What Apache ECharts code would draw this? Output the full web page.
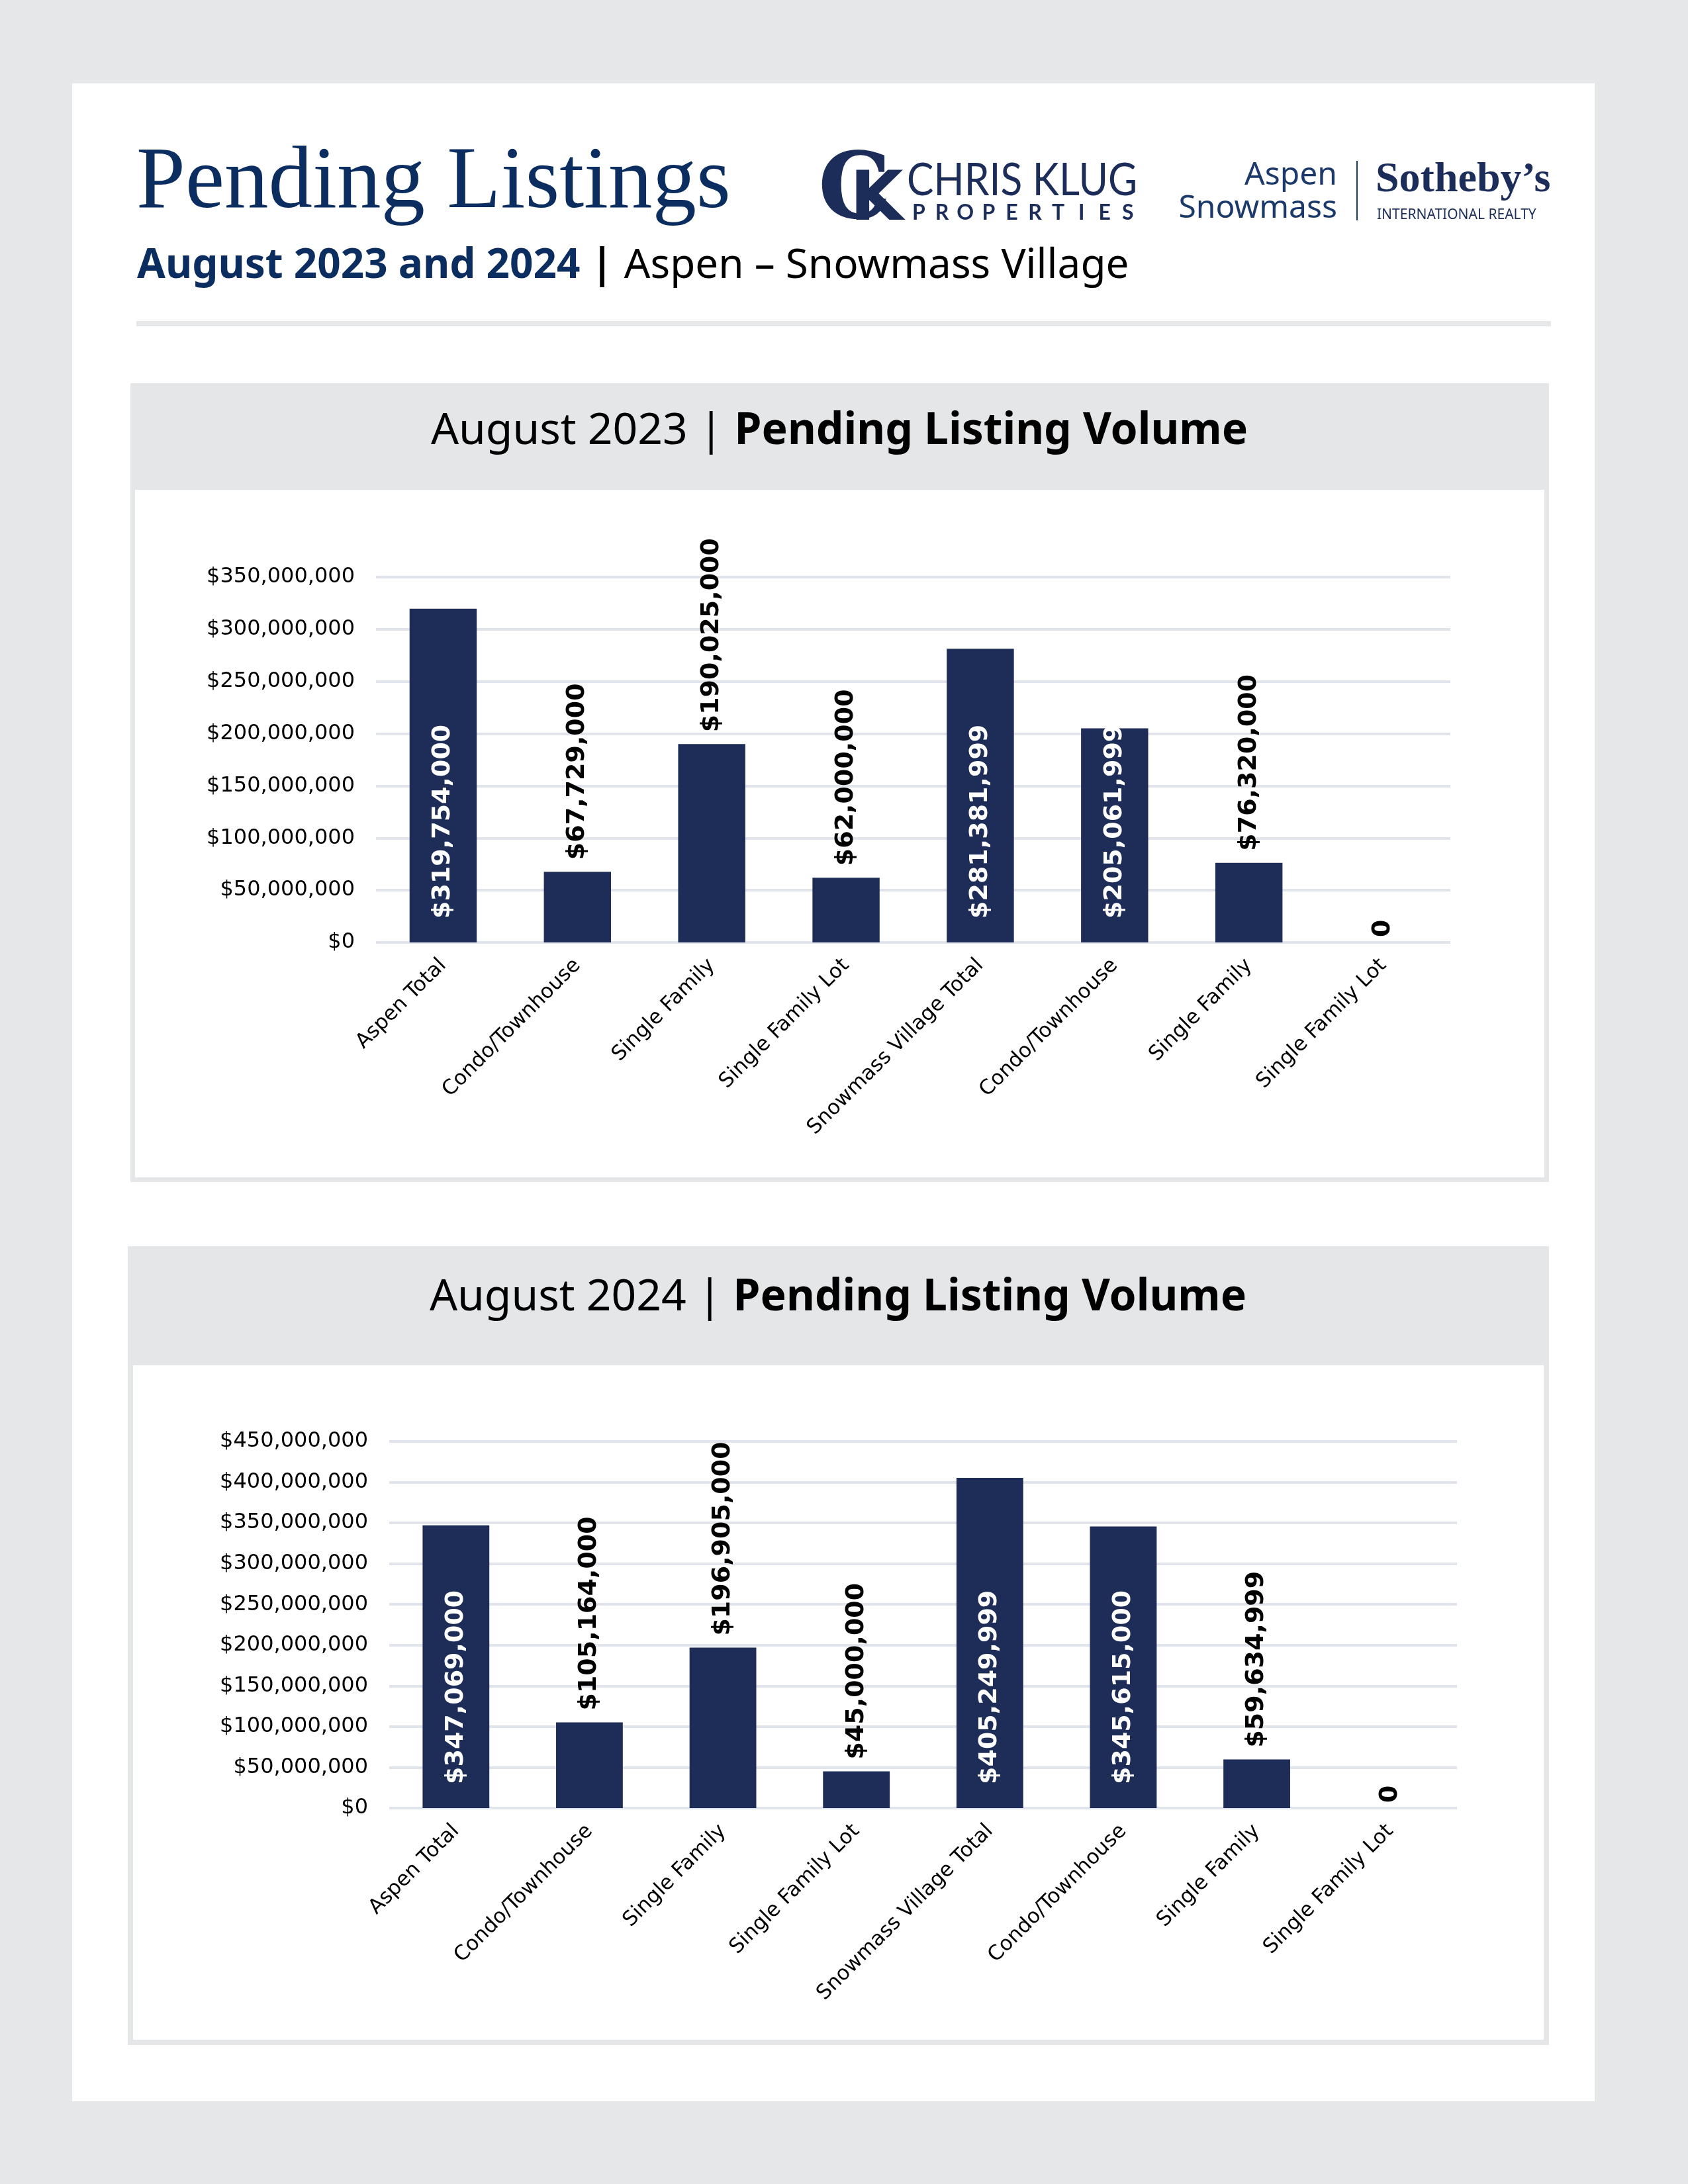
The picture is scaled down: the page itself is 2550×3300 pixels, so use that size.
<!DOCTYPE html>
<html>
<head>
<meta charset="utf-8">
<script src="https://cdn.jsdelivr.net/npm/echarts@6/dist/echarts.min.js"></script>
<style>
  html, body { margin: 0; padding: 0; background: #e6e7e9; }
  #main { width: 2550px; height: 3300px; }
</style>
</head>
<body>
<div id="main"></div>
<script>
// ---------------- DATA ----------------
const categories = ['Aspen Total', 'Condo/Townhouse', 'Single Family', 'Single Family Lot',
  'Snowmass Village Total', 'Condo/Townhouse', 'Single Family', 'Single Family Lot'];
const values2023 = [319754000, 67729000, 190025000, 62000000, 281381999, 205061999, 76320000, 0];
const values2024 = [347069000, 105164000, 196905000, 45000000, 405249999, 345615000, 59634999, 0];
const yMax2023 = 350000000;
const yMax2024 = 450000000;
const yStep = 50000000;
const title2023 = 'August 2023';
const title2024 = 'August 2024';
const panelSubject = 'Pending Listing Volume';

// ---------------- STYLE ----------------
const NAVY = '#0b2d5f';
const BAR = '#1e2d58';
const LOGO = '#1c2d5a';
const GRID = '#e1e4ea';
const PANEL_GRAY = '#e5e6e8';
const SANS = '"DejaVu Sans", sans-serif';
const INSIDE_MIN = 200000000;

function money(v) { return v === 0 ? '0' : '$' + v.toLocaleString('en-US'); }

function barData(values) {
  return values.map(v => {
    const inside = v >= INSIDE_MIN;
    return {
      value: v,
      label: {
        show: true,
        position: inside ? 'insideBottom' : 'top',
        distance: inside ? 36 : (v === 0 ? 8 : 18),
        rotate: 90,
        align: 'left',
        verticalAlign: 'middle',
        color: inside ? '#ffffff' : '#000000',
        fontFamily: SANS,
        fontWeight: 'bold',
        fontSize: 38,
        formatter: p => money(p.value)
      }
    };
  });
}

function xAxisCfg(gridIndex) {
  return {
    type: 'category', gridIndex, data: categories,
    axisLine: { show: false }, axisTick: { show: false },
    axisLabel: { interval: 0, rotate: 45, margin: 30, fontFamily: SANS, fontSize: 31, color: '#000' }
  };
}
function yAxisCfg(gridIndex, max) {
  return {
    type: 'value', gridIndex, min: 0, max, interval: yStep,
    axisLine: { show: false }, axisTick: { show: false },
    axisLabel: { margin: 32, fontFamily: SANS, fontSize: 32, color: '#000', formatter: v => '$' + v.toLocaleString('en-US') },
    splitLine: { show: true, lineStyle: { color: GRID, width: 4 } }
  };
}

// ---------------- GRAPHICS ----------------
const g = [];
// white card
g.push({ type: 'rect', z: -10, shape: { x: 109, y: 126, width: 2300, height: 3049 }, style: { fill: '#ffffff' } });
// panels
function panel(x, y, w, h, headerH, border) {
  g.push({ type: 'rect', z: -9, shape: { x, y, width: w, height: h }, style: { fill: PANEL_GRAY } });
  g.push({ type: 'rect', z: -8, shape: { x: x + border, y: y + headerH, width: w - 2 * border, height: h - headerH - border }, style: { fill: '#ffffff' } });
}
panel(197, 579, 2143, 1207, 161, 7);
panel(193, 1883, 2147, 1207, 180, 8);
// divider
g.push({ type: 'rect', z: -7, shape: { x: 206, y: 485, width: 2137, height: 8 }, style: { fill: '#e6e7e9' } });

function txt(x, y, text, font, fill, align, extra) {
  const el = { type: 'text', z: 10, x, y, style: Object.assign({
    text, font, fill,
    align: align || 'left', textAlign: align || 'left',
    verticalAlign: 'middle', textVerticalAlign: 'middle'
  }, extra || {}) };
  g.push(el);
  return el;
}

// main title
txt(206, 278, 'Pending Listings', '133px "Liberation Serif", serif', NAVY);
// subtitle (rich)
txt(207, 402, '{a|August 2023 and 2024} {b||} {c|Aspen – Snowmass Village}', '62px "Noto Sans"', '#000', 'left', {
  rich: {
    a: { font: 'bold 62px "Noto Sans"', fill: NAVY },
    b: { font: 'bold 62px "Noto Sans"', fill: '#000' },
    c: { font: '62px "Noto Sans"', fill: '#000' }
  }
});

// Chris Klug logo
txt(1236, 293, 'C', 'bold 138px "DejaVu Serif", serif', LOGO);
txt(1284, 305, 'K', 'bold 104px "DejaVu Sans", sans-serif', LOGO);
const ck = txt(1370, 273, 'CHRIS KLUG', '68px Lato, sans-serif', LOGO);
ck.scaleX = 0.89;
const props = 'PROPERTIES'.split('');
props.forEach((ch, i) => txt(1388 + i * 35.1, 322, ch, 'bold 32px Lato, sans-serif', LOGO, 'center'));

// Sotheby's logo
txt(2020, 265, 'Aspen', '48px "Noto Sans", sans-serif', '#1b3a6b', 'right');
txt(2020, 315, 'Snowmass', '48px "Noto Sans", sans-serif', '#1b3a6b', 'right');
g.push({ type: 'line', z: 10, shape: { x1: 2050, y1: 243, x2: 2050, y2: 333 }, style: { stroke: '#1b3a6b', lineWidth: 2 } });
txt(2078, 272, 'Sotheby’s', 'bold 64px "Liberation Serif", serif', LOGO);
txt(2080, 325, 'INTERNATIONAL REALTY', '21px "Noto Sans", sans-serif', LOGO);

// panel titles
function panelTitle(cx, cy, yr) {
  txt(cx, cy, '{r|' + yr + ' | }{b|' + panelSubject + '}', '66px "Noto Sans"', '#000', 'center', {
    rich: {
      r: { font: '66px "Noto Sans"', fill: '#000' },
      b: { font: 'bold 66px "Noto Sans"', fill: '#000' }
    }
  });
}
panelTitle(1268, 652, title2023);
panelTitle(1266, 1961, title2024);

// ---------------- CHART ----------------
const chart = echarts.init(document.getElementById('main'), null, { renderer: 'canvas' });
chart.setOption({
  backgroundColor: '#e6e7e9',
  animation: false,
  graphic: { elements: g },
  grid: [
    { left: 568, top: 872, width: 1623, height: 552 },
    { left: 588, top: 2178, width: 1613, height: 554 }
  ],
  xAxis: [xAxisCfg(0), xAxisCfg(1)],
  yAxis: [yAxisCfg(0, yMax2023), yAxisCfg(1, yMax2024)],
  series: [
    { type: 'bar', xAxisIndex: 0, yAxisIndex: 0, barWidth: '50%', itemStyle: { color: BAR }, data: barData(values2023) },
    { type: 'bar', xAxisIndex: 1, yAxisIndex: 1, barWidth: '50%', itemStyle: { color: BAR }, data: barData(values2024) }
  ]
});
</script>
</body>
</html>
